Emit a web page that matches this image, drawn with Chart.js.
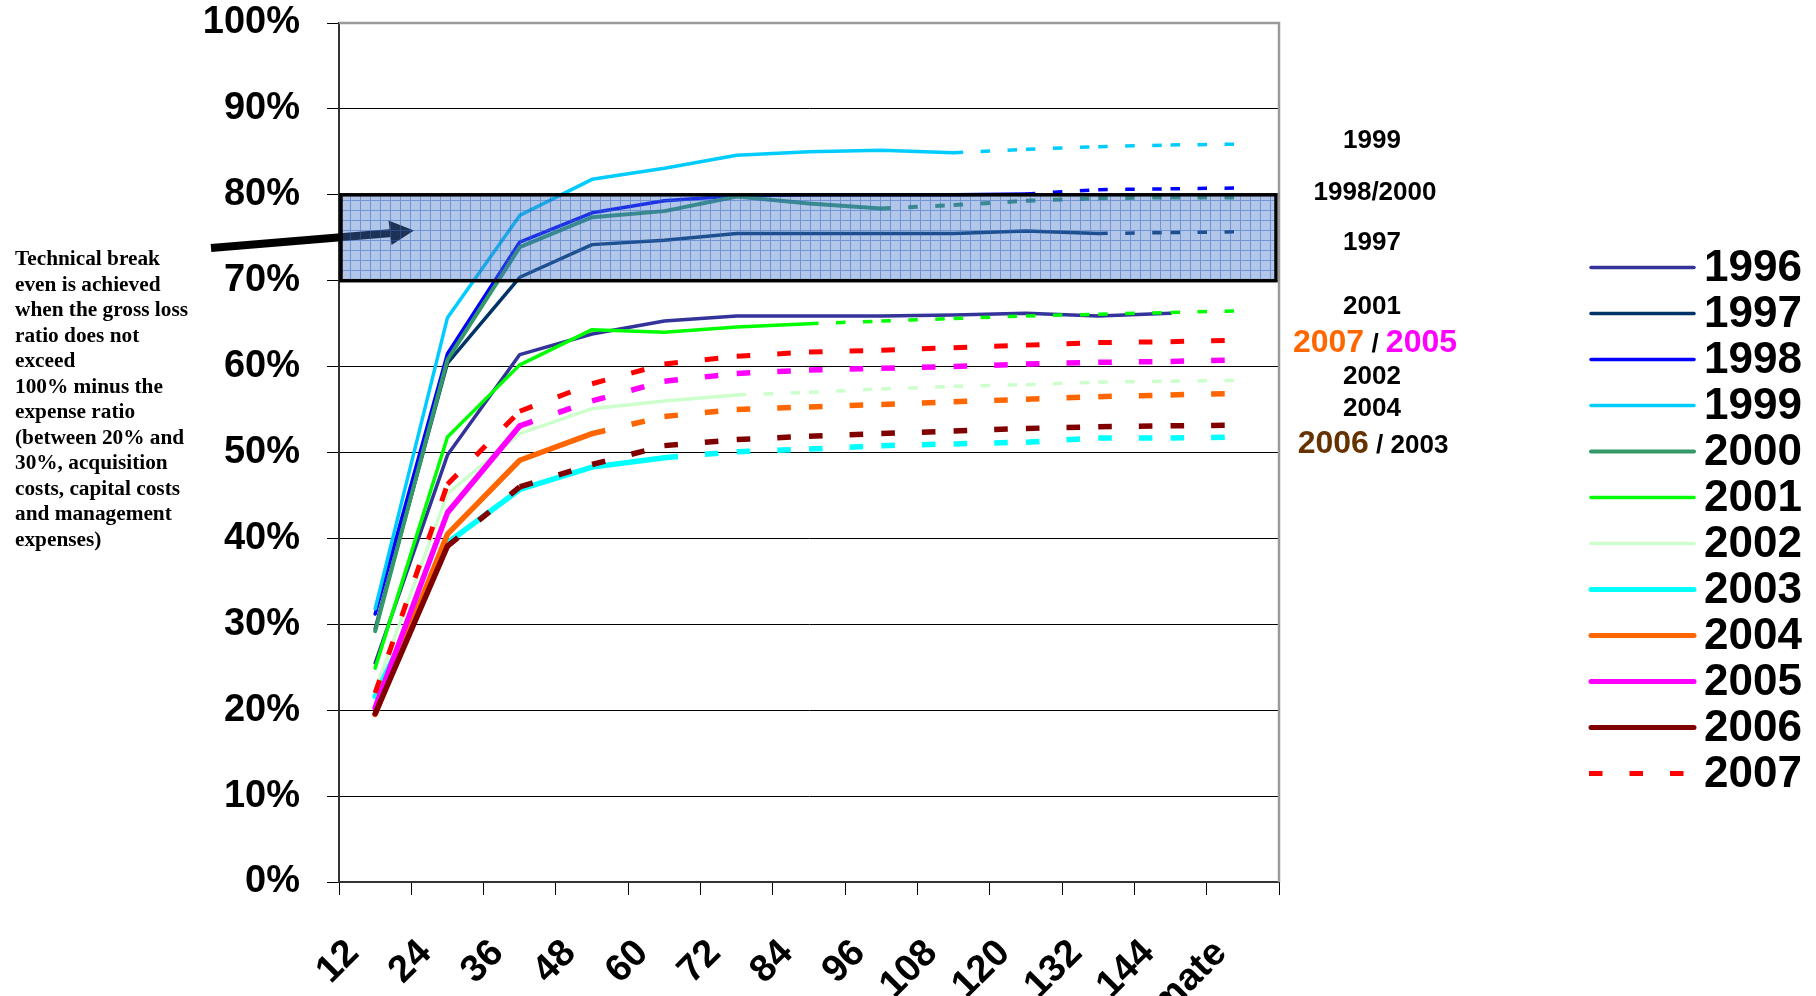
<!DOCTYPE html>
<html><head><meta charset="utf-8">
<script src="https://cdn.jsdelivr.net/npm/chart.js@4.4.1/dist/chart.umd.min.js"></script>
<style>html,body{margin:0;padding:0;background:#fff;overflow:hidden}#wrap{position:absolute;left:0;top:0;width:1816px;height:996px}</style>
</head><body><div id="wrap"><canvas id="c" width="1816" height="996"></canvas></div>
<script>
// ---------- data ----------
const categories = ['12','24','36','48','60','72','84','96','108','120','132','144','Ultimate'];
const years = ['1996','1997','1998','1999','2000','2001','2002','2003','2004','2005','2006','2007'];
const v1996 = [25.5, 49.7, 61.4, 63.8, 65.3, 65.9, 65.9, 65.9, 66.0, 66.2, 65.9, 66.2, null];
const v1997 = [29.5, 60.4, 70.4, 74.2, 74.7, 75.5, 75.5, 75.5, 75.5, 75.8, 75.5, 75.6, 75.7];
const v1998 = [31.2, 61.5, 74.5, 77.9, 79.3, 79.9, 80.0, 80.0, 80.0, 80.1, 80.6, 80.7, 80.8];
const v1999 = [31.8, 65.7, 77.6, 81.8, 83.1, 84.6, 85.0, 85.2, 84.9, 85.3, 85.6, 85.8, 85.9];
const v2000 = [29.2, 60.8, 73.9, 77.4, 78.1, 79.8, 79.0, 78.4, 78.8, 79.3, 79.6, 79.7, 79.7];
const v2001 = [24.9, 51.8, 60.2, 64.3, 64.0, 64.6, 65.0, 65.3, 65.6, 65.9, 66.1, 66.3, 66.5];
const v2002 = [22.3, 45.2, 52.2, 55.1, 56.0, 56.7, 57.0, 57.4, 57.7, 57.9, 58.2, 58.3, 58.4];
const v2003 = [21.6, 39.5, 45.7, 48.3, 49.4, 50.1, 50.4, 50.8, 51.0, 51.2, 51.7, 51.7, 51.8];
const v2004 = [19.5, 40.5, 49.1, 52.2, 54.2, 55.0, 55.3, 55.6, 55.9, 56.2, 56.5, 56.7, 56.9];
const v2005 = [20.3, 43.0, 53.1, 56.0, 58.3, 59.2, 59.6, 59.8, 60.0, 60.3, 60.5, 60.6, 60.8];
const v2006 = [19.6, 39.1, 46.0, 48.6, 50.8, 51.5, 51.9, 52.2, 52.5, 52.8, 53.0, 53.1, 53.2];
const v2007 = [22.0, 46.3, 54.8, 58.0, 60.3, 61.2, 61.7, 61.9, 62.2, 62.5, 62.8, 62.9, 63.1];
// number of observed (solid) points per year; the rest is projected (dashed)
const actualPoints = [12, 11, 10, 9, 8, 7, 6, 5, 4, 3, 2, 1];
const breakEvenBand = [70, 80];
const yTickValues = [0,10,20,30,40,50,60,70,80,90,100];
const noteLines = ['Technical break','even is achieved','when the gross loss','ratio does not','exceed','100% minus the','expense ratio','(between 20% and','30%, acquisition','costs, capital costs','and management','expenses)'];
const sideLabels = ['1999','1998/2000','1997','2001',['2007',' / ','2005'],'2002','2004',['2006',' / ','2003']];

// ---------- styles ----------
const seriesValues = [v1996,v1997,v1998,v1999,v2000,v2001,v2002,v2003,v2004,v2005,v2006,v2007];
const colors = ['#333399','#003366','#0000FF','#00CCFF','#339966','#00FF00','#CCFFCC','#00FFFF','#FF6600','#FF00FF','#800000','#FF0000'];
const widths = [3.5,3.5,3.5,3.5,4,3.5,3.5,5.5,5.5,5.5,5.5,5];
const FONT = "'Liberation Sans', Arial, sans-serif";
Chart.defaults.font.family = FONT;

function dashFor(i){ return widths[i] < 5 ? [9.5, 17.5] : [13.6, 27]; }

const datasets = seriesValues.map((vals, i) => ({
  label: years[i],
  data: vals,
  borderColor: colors[i],
  backgroundColor: colors[i],
  borderWidth: widths[i],
  pointRadius: 0,
  pointHoverRadius: 0,
  tension: 0,
  fill: false,
  borderJoinStyle: 'round',
  borderCapStyle: 'round',
  order: 11 - i,
  segment: {
    borderDash: ctx => ctx.p0DataIndex >= actualPoints[i] - 1 ? dashFor(i) : [],
    borderDashOffset: ctx => ctx.p0DataIndex >= actualPoints[i] - 1 ? ctx.p0DataIndex * 0.001 : 0,
    borderCapStyle: ctx => ctx.p0DataIndex >= actualPoints[i] - 1 ? 'butt' : 'round'
  }
}));

function makePattern(ctx){
  const c = document.createElement('canvas'); c.width = 10; c.height = 10;
  const g = c.getContext('2d');
  g.fillStyle = 'rgba(70,120,200,0.42)'; g.fillRect(0,0,10,10);
  g.fillStyle = 'rgba(50,100,190,0.5)'; g.fillRect(0,0,10,1); g.fillRect(0,1,1,9);
  return ctx.createPattern(c, 'repeat');
}

const overlayPlugin = {
  id: 'overlay',
  afterDatasetsDraw(chart){
    const {ctx, chartArea: a, scales: {y}} = chart;
    ctx.save();
    // arrow
    ctx.strokeStyle = '#000'; ctx.fillStyle = '#000'; ctx.lineWidth = 8; ctx.lineCap = 'butt';
    ctx.beginPath(); ctx.moveTo(211, 248); ctx.lineTo(392, 233); ctx.stroke();
    ctx.beginPath(); ctx.moveTo(414, 230.5); ctx.lineTo(388.5, 220.5); ctx.lineTo(391.5, 245); ctx.closePath(); ctx.fill();
    // break-even band
    const top = y.getPixelForValue(breakEvenBand[1]), bot = y.getPixelForValue(breakEvenBand[0]);
    const L = a.left + 2, R = a.right - 3;
    ctx.fillStyle = makePattern(ctx);
    ctx.fillRect(L, top, R - L, bot - top);
    ctx.strokeStyle = '#000'; ctx.lineWidth = 3.5;
    ctx.strokeRect(L, top, R - L, bot - top);
    ctx.restore();
  },
  afterDraw(chart){
    const {ctx, chartArea: a} = chart;
    ctx.save();
    // plot frame top/right
    ctx.strokeStyle = '#9a9a9a'; ctx.lineWidth = 2.5;
    ctx.beginPath(); ctx.moveTo(a.left, a.top); ctx.lineTo(a.right, a.top); ctx.lineTo(a.right, a.bottom); ctx.stroke();
    // legend
    chart.data.datasets.forEach((ds, i) => {
      const yy = 267.5 + i * 46;
      const dashed = actualPoints[i] <= 1;
      ctx.strokeStyle = ds.borderColor;
      ctx.lineWidth = Math.min(ds.borderWidth, 5);
      ctx.lineCap = dashed ? 'butt' : 'round';
      ctx.setLineDash(dashed ? [13.5, 27] : []);
      ctx.beginPath(); ctx.moveTo(dashed ? 1589 : 1591, yy); ctx.lineTo(1694, yy); ctx.stroke();
      ctx.setLineDash([]);
      ctx.fillStyle = '#000'; ctx.font = 'bold 44px ' + FONT;
      ctx.textAlign = 'left'; ctx.textBaseline = 'middle';
      ctx.fillText(ds.label, 1704, yy + 1);
    });
    // side labels
    const base = [147.5, 200, 250, 314, 351.7, 384, 416, 453.3];
    const cx = [1372, 1375, 1372, 1372, 1375, 1372, 1372, 1373];
    ctx.textBaseline = 'alphabetic';
    sideLabels.forEach((s, k) => {
      if (typeof s === 'string') {
        ctx.font = 'bold 26px ' + FONT; ctx.fillStyle = '#000'; ctx.textAlign = 'center';
        ctx.fillText(s, cx[k], base[k]);
      } else {
        const big = k === 4 ? [32, 26, 32] : [32, 26, 26];
        const col = k === 4 ? ['#FF6600', '#000', '#FF00FF'] : ['#663300', '#000', '#000'];
        let w = 0;
        const ws = s.map((p, j) => { ctx.font = 'bold ' + big[j] + 'px ' + FONT; const m = ctx.measureText(p).width; w += m; return m; });
        let x = cx[k] - w / 2;
        ctx.textAlign = 'left';
        s.forEach((p, j) => { ctx.font = 'bold ' + big[j] + 'px ' + FONT; ctx.fillStyle = col[j]; ctx.fillText(p, x, base[k]); x += ws[j]; });
      }
    });
    // left note
    ctx.font = "bold 21.3px 'Liberation Serif', 'Times New Roman', serif";
    ctx.fillStyle = '#000'; ctx.textAlign = 'left';
    noteLines.forEach((t, k) => ctx.fillText(t, 15, 265 + k * 25.5));
    ctx.restore();
  }
};

new Chart(document.getElementById('c'), {
  type: 'line',
  data: { labels: categories, datasets },
  options: {
    responsive: false,
    animation: false,
    events: [],
    layout: { padding: { left: 0, right: 537, top: 23, bottom: 0 } },
    plugins: { legend: { display: false }, tooltip: { enabled: false } },
    scales: {
      x: {
        type: 'category',
        offset: true,
        afterFit: s => { s.height = 114; s.paddingTop = 0; s.paddingBottom = 0; },
        grid: { drawOnChartArea: false, offset: true, tickLength: 13, color: '#000', lineWidth: 1 },
        border: { color: '#333', width: 2 },
        ticks: { autoSkip: false, minRotation: 45, maxRotation: 45, labelOffset: -22, padding: 36,
                 color: '#000', font: { size: 38, weight: 'bold' } }
      },
      y: {
        min: 0, max: 100,
        afterFit: s => { s.width = 339; s.paddingTop = 0; s.paddingBottom = 0; },
        afterBuildTicks: s => { s.ticks = yTickValues.map(v => ({ value: v })); },
        grid: { color: '#000', lineWidth: 1, tickLength: 12 },
        border: { color: '#333', width: 2 },
        ticks: { padding: 27, color: '#000', font: { size: 38, weight: 'bold' }, callback: v => v + '%' }
      }
    }
  },
  plugins: [overlayPlugin]
});
</script>
</body></html>
